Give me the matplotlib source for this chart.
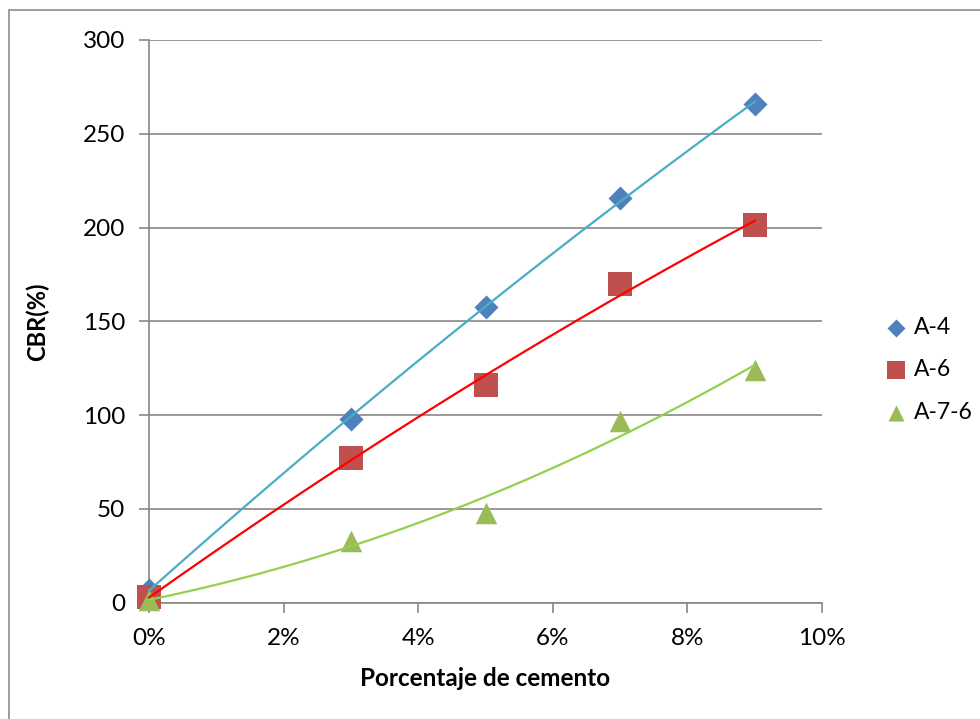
import numpy as np
import matplotlib
matplotlib.use("Agg")
import matplotlib.pyplot as plt
from matplotlib.patches import Rectangle
from matplotlib.ticker import FuncFormatter

# Cement content (%) and CBR (%) per soil type
cemento = [0, 3, 5, 7, 9]
cbr_a4 = [7, 98, 157.6, 216, 266]
cbr_a6 = [3, 77, 116, 170, 201.4]
cbr_a76 = [1.5, 33, 48, 97, 124]

series = ["A-4", "A-6", "A-7-6"]
x_ticks = [0, 2, 4, 6, 8, 10]
y_ticks = [0, 50, 100, 150, 200, 250, 300]

plt.rcParams['font.family'] = ['Lato', 'DejaVu Sans']

W, H = 980, 719
fig = plt.figure(figsize=(W / 100, H / 100), dpi=100)
ax = fig.add_axes([149 / W, 1 - 602.7 / H, (822 - 149) / W, (602.7 - 40) / H])

# chart frame
fig.patches.append(Rectangle((9 / W, -0.05), 1.2, 1 - 10 / H + 0.05,
                             transform=fig.transFigure, fill=False,
                             edgecolor="#8c8c8c", linewidth=1.2, zorder=0))

gray = "#878787"
ax.set_xlim(0, 10)
ax.set_ylim(0, 300)
ax.set_yticks(y_ticks)
ax.set_xticks(x_ticks)
ax.xaxis.set_major_formatter(FuncFormatter(lambda v, p: f"{int(v)}%"))
ax.grid(axis="y", color=gray, linewidth=1.2)
ax.set_axisbelow(True)
for s in ["top", "right"]:
    ax.spines[s].set_visible(False)
for s in ["left", "bottom"]:
    ax.spines[s].set_color(gray)
    ax.spines[s].set_linewidth(1.2)
ax.tick_params(axis="both", colors=gray, labelcolor="black", labelsize=17.5,
               length=7, width=1.2)
ax.tick_params(axis="x", pad=11)
ax.tick_params(axis="y", pad=10)

ax.set_xlabel("Porcentaje de cemento", fontsize=17.5, fontweight="bold", labelpad=13)
ax.set_ylabel("CBR(%)", fontsize=17, fontweight="bold", labelpad=24)

x = np.array(cemento, dtype=float)
xs = np.linspace(0, 9, 200)

# trend lines
fits = [(cbr_a4, 2, "#4BACC6"), (cbr_a6, 2, "#FF0000"), (cbr_a76, 2, "#92D050")]
for yv, deg, col in fits:
    c = np.polyfit(x, yv, deg)
    ax.plot(xs, np.polyval(c, xs), color=col, linewidth=1.6, zorder=4,
            clip_on=False)

ax.scatter(x, cbr_a4, marker="D", s=150, color="#4F81BD", label=series[0],
           zorder=3, clip_on=False, linewidths=0)
ax.scatter(x, cbr_a6, marker="s", s=290, color="#C0504D", label=series[1],
           zorder=3, clip_on=False, linewidths=0)
ax.scatter(x, cbr_a76, marker="^", s=240, color="#9BBB59", label=series[2],
           zorder=3, clip_on=False, linewidths=0)

leg = ax.legend(loc="center left", bbox_to_anchor=(868 / W, 1 - 370 / H),
                bbox_transform=fig.transFigure, frameon=False, fontsize=16.5,
                handletextpad=0.0, labelspacing=0.95, markerscale=0.75,
                borderaxespad=0, handlelength=1.6)

fig.savefig("out.png", dpi=100)
